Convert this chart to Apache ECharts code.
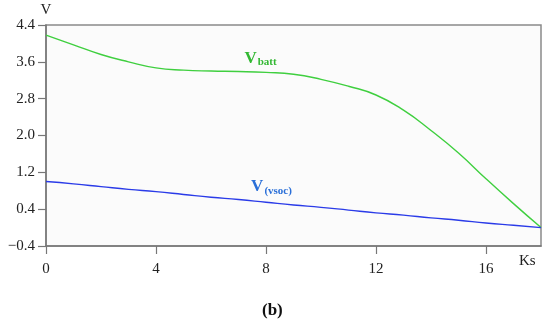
<!DOCTYPE html>
<html>
<head>
<meta charset="utf-8">
<script src="https://cdn.jsdelivr.net/npm/echarts@6/dist/echarts.min.js"></script>
<style>html,body{margin:0;padding:0;background:#fff;}#c{width:550px;height:320px;}</style>
</head>
<body>
<div id="c"></div>
<script>
var timeKs = [0, 1, 2, 3, 4, 5, 6, 7, 8, 9, 10, 11, 12, 13, 14, 15, 16, 17, 18];
var vBatt = [4.18, 3.97, 3.76, 3.60, 3.47, 3.42, 3.40, 3.39, 3.37, 3.33, 3.22, 3.07, 2.88, 2.55, 2.11, 1.62, 1.06, 0.52, 0.0];
var vVsoc = [1.0, 0.95, 0.89, 0.83, 0.78, 0.72, 0.66, 0.61, 0.55, 0.49, 0.44, 0.38, 0.32, 0.27, 0.21, 0.16, 0.10, 0.05, 0.0];
var xTicks = [0, 4, 8, 12, 16];
var yTicks = [-0.4, 0.4, 1.2, 2.0, 2.8, 3.6, 4.4];
var labelBatt = [7.8, 3.68];
var labelVsoc = [8.2, 0.88];

function pairs(xs, ys) { return xs.map(function (x, i) { return [x, ys[i]]; }); }

var serif = '"Liberation Serif", "DejaVu Serif", serif';
var chart = echarts.init(document.getElementById('c'));
chart.setOption({
  animation: false,
  grid: { left: 46, top: 25, right: 9, bottom: 74, show: true, borderColor: '#8a8a8a', borderWidth: 1.5, backgroundColor: '#fbfbfb' },
  xAxis: {
    type: 'value', min: 0, max: 18, interval: 4,
    axisLine: { onZero: false, lineStyle: { color: '#777', width: 1.5 } },
    axisTick: { length: 8, lineStyle: { color: '#777', width: 1.2 }, customValues: xTicks },
    axisLabel: { customValues: xTicks, color: '#222', fontFamily: serif, fontSize: 15, margin: 16 },
    splitLine: { show: false }
  },
  yAxis: {
    type: 'value', min: -0.4, max: 4.4, interval: 0.8,
    name: 'V', nameLocation: 'end', nameGap: 3,
    nameTextStyle: { color: '#222', fontFamily: serif, fontSize: 15, align: 'center', padding: [0, 0, 0, 0] },
    axisLine: { lineStyle: { color: '#777', width: 1.5 } },
    axisTick: { length: 8, lineStyle: { color: '#777', width: 1.2 }, customValues: yTicks },
    axisLabel: { customValues: yTicks, color: '#222', fontFamily: serif, fontSize: 15, margin: 11,
      formatter: function (v) { return (v < 0 ? '\u22120.4' : v.toFixed(1)); } },
    splitLine: { show: false }
  },
  series: [
    {
      type: 'line', data: pairs(timeKs, vBatt), smooth: 0.5, showSymbol: false,
      lineStyle: { color: '#3fcf3f', width: 1.4 },
      markPoint: {
        symbol: 'circle', symbolSize: 0,
        data: [{ coord: labelBatt }],
        label: { show: true, position: 'inside',
          formatter: '{a|V}{b|batt}',
          rich: {
            a: { fontFamily: serif, fontWeight: 'bold', fontSize: 17, color: '#33b833' },
            b: { fontFamily: serif, fontWeight: 'bold', fontSize: 11, color: '#33b833', padding: [8, 0, 0, 1] }
          }
        }
      }
    },
    {
      type: 'line', data: pairs(timeKs, vVsoc), smooth: true, showSymbol: false,
      lineStyle: { color: '#2a3be8', width: 1.4 },
      markPoint: {
        symbol: 'circle', symbolSize: 0,
        data: [{ coord: labelVsoc }],
        label: { show: true, position: 'inside',
          formatter: '{a|V}{b|(vsoc)}',
          rich: {
            a: { fontFamily: serif, fontWeight: 'bold', fontSize: 17, color: '#2a6fd8' },
            b: { fontFamily: serif, fontWeight: 'bold', fontSize: 11, color: '#2a6fd8', padding: [8, 0, 0, 1] }
          }
        }
      }
    }
  ],
  graphic: [
    { type: 'text', left: 519, top: 254, style: { text: 'Ks', font: '15px ' + serif, fill: '#222' } },
    { type: 'text', left: 262, top: 302, style: { text: '(b)', font: 'bold 17px ' + serif, fill: '#111' } }
  ]
});
</script>
</body>
</html>
